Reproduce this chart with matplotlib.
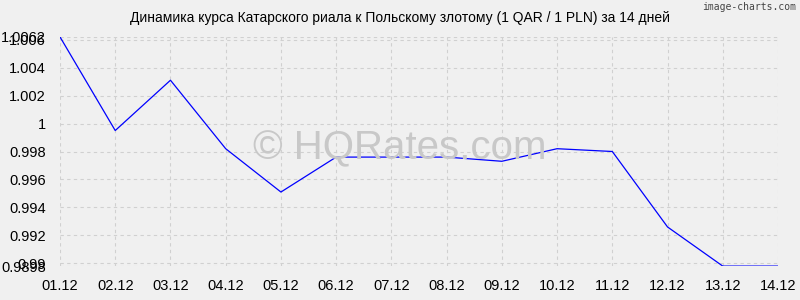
import matplotlib.pyplot as plt
from matplotlib.ticker import FixedLocator, FuncFormatter

dates = ['01.12', '02.12', '03.12', '04.12', '05.12', '06.12', '07.12',
         '08.12', '09.12', '10.12', '11.12', '12.12', '13.12', '14.12']
rates = [1.0062, 0.9995, 1.0031, 0.9982, 0.9951, 0.9976, 0.9976,
         0.9976, 0.9973, 0.9982, 0.9980, 0.9926, 0.9898, 0.9898]
yticks = [0.9898, 0.99, 0.992, 0.994, 0.996, 0.998, 1.0, 1.002, 1.004, 1.006, 1.0062]

plt.rcParams['font.family'] = ['Liberation Sans', 'DejaVu Sans']
bg = '#f0f0f0'

fig = plt.figure(figsize=(8, 3), dpi=100, facecolor=bg)
ax = fig.add_axes([0.075, 0.113, 0.8975, 0.764], facecolor=bg)

x = list(range(len(dates)))
ax.plot(x, rates, color='#0000ff', lw=0.9, zorder=3)

ax.set_xlim(0, len(dates) - 1)
ax.set_ylim(min(rates), max(rates))
ax.set_xticks(x)
ax.set_xticklabels(dates)
ax.yaxis.set_major_locator(FixedLocator(yticks))
ax.yaxis.set_major_formatter(FuncFormatter(lambda v, p: ('%.4f' % v).rstrip('0').rstrip('.')))

ax.grid(True, color='#d0d0d0', ls=(0, (3, 3)), lw=0.8)
for s in ax.spines.values():
    s.set_visible(False)
ax.tick_params(length=0, labelsize=10.5, colors='black')
ax.tick_params(axis='y', pad=10)
ax.tick_params(axis='x', pad=9)

fig.text(0.5, 0.94, 'Динамика курса Катарского риала к Польскому злотому (1 QAR / 1 PLN) за 14 дней',
         ha='center', va='center', fontsize=10)
fig.text(0.995, 0.975, 'image-charts.com', ha='right', va='center', fontsize=7,
         family='DejaVu Sans Mono', color='#444444')
fig.text(0.5, 0.505, '© HQRates.com', ha='center', va='center',
         fontsize=29, color='#c8c8c8', zorder=1)

fig.savefig('out.png', dpi=100, facecolor=bg)
